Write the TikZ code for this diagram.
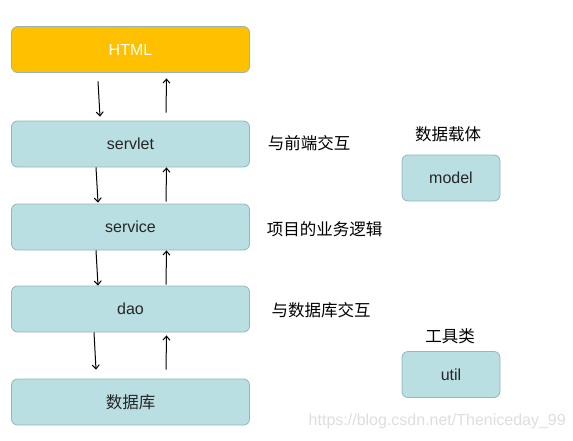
\documentclass[tikz,border=0pt]{standalone}
\usepackage{fontspec}
\setmainfont{Liberation Sans}
\newfontfamily\cjk{Noto Sans CJK SC}
\usetikzlibrary{arrows.meta}
\definecolor{layerfill}{RGB}{185,223,227}
\definecolor{layerline}{RGB}{150,180,185}
\definecolor{htmlfill}{RGB}{255,192,0}
\definecolor{markgray}{RGB}{222,222,222}
\begin{document}
\begin{tikzpicture}[x=1pt, y=-1pt,
    layer/.style={draw=layerline, fill=layerfill, rounded corners=6pt, line width=0.8pt,
      minimum width=238pt, minimum height=46pt, inner sep=0pt, text=black!85,
      font=\fontsize{16}{18}\selectfont},
    side/.style={draw=layerline, fill=layerfill, rounded corners=6pt, line width=0.8pt,
      minimum width=98pt, minimum height=46pt, inner sep=0pt, text=black!85,
      font=\fontsize{16}{18}\selectfont},
    note/.style={inner sep=0pt, font=\cjk\fontsize{16.5}{18}\selectfont},
    flow/.style={line width=1pt, -{Straight Barb[length=4pt,width=7pt]}}]
  \useasboundingbox (0, 0) rectangle (573, 440) ;
  % the layers
  \node[layer, fill=htmlfill, text=white] (html) at (130.5, 49.5) {HTML} ;
  \node[layer] (servlet) at (130.5, 144) {servlet} ;
  \node[layer] (service) at (130.5, 227) {service} ;
  \node[layer] (dao) at (130.5, 309) {dao} ;
  \node[layer, font=\cjk\fontsize{16.5}{18}\selectfont] (db) at (130.5, 402) {数据库} ;
  % what each layer does
  \node[note] (servletnote) at (309, 143) {与前端交互} ;
  \node[note] (servicenote) at (324.5, 229) {项目的业务逻辑} ;
  \node[note] (daonote) at (321, 310) {与数据库交互} ;
  % helpers on the right
  \node[side] (model) at (451, 178) {model} ;
  \node[note] (modelnote) at (448, 134) {数据载体} ;
  \node[side] (util) at (451, 374.5) {util} ;
  \node[note] (utilnote) at (450, 336) {工具类} ;
  % requests down, answers up
  \foreach \a/\b/\dx/\ds/\de/\us/\ue in {html/servlet/-32.5/-8.5/4/8/-5.5,
      servlet/service/-34.5/0/1/2/0, service/dao/-34.5/0/0/1/0, dao/db/-36.5/0/9/9/-3} {
    \draw[flow] ([xshift=\dx pt, yshift=\ds pt]\a.south) -- ([xshift=\dx pt + 2pt, yshift=\de pt]\b.north) ;
    \draw[flow] ([xshift=35.5pt, yshift=\us pt]\b.north) -- ([xshift=36pt, yshift=\ue pt]\a.south) ;
  }
  \node[anchor=east, inner sep=0pt, text=markgray, font=\fontsize{16}{18}\selectfont] (mark) at (566, 421) {https://blog.csdn.net/Theniceday\_99} ;
\end{tikzpicture}
\end{document}
